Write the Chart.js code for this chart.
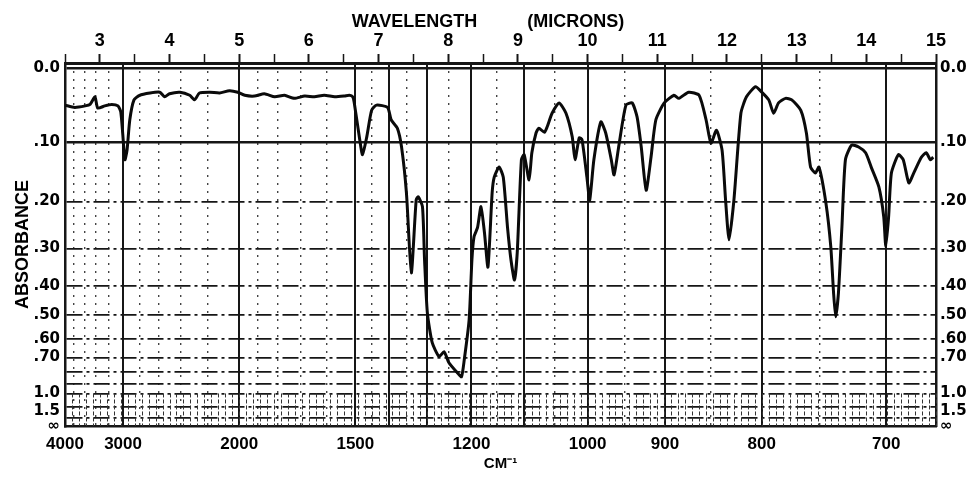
<!DOCTYPE html>
<html>
<head>
<meta charset="utf-8">
<script src="https://cdn.jsdelivr.net/npm/chart.js@4.4.0/dist/chart.umd.min.js"></script>
<style>
  html, body { margin: 0; padding: 0; background: #fff; }
  canvas { display: block; }
</style>
</head>
<body>
<canvas id="spec" width="978" height="480"></canvas>
<script>
// trace: wavelength in microns, absorbance
const wavelength = [
  2.50, 2.64, 2.79, 2.86, 2.93, 2.97, 3.07, 3.17, 3.26, 3.30,
  3.33, 3.36, 3.39, 3.43, 3.49, 3.57, 3.72, 3.86, 3.93, 4.00,
  4.15, 4.29, 4.36, 4.43, 4.58, 4.72, 4.86, 4.98, 5.08, 5.22,
  5.36, 5.51, 5.65, 5.79, 5.94, 6.08, 6.22, 6.37, 6.51, 6.58,
  6.63, 6.65, 6.73, 6.77, 6.83, 6.90, 6.97, 7.13, 7.18, 7.27,
  7.33, 7.40, 7.47, 7.54, 7.57, 7.63, 7.66, 7.70, 7.77, 7.87,
  7.94, 8.01, 8.13, 8.19, 8.23, 8.30, 8.34, 8.37, 8.42, 8.47,
  8.52, 8.57, 8.63, 8.66, 8.73, 8.79, 8.85, 8.90, 8.95, 8.99,
  9.05, 9.09, 9.16, 9.20, 9.26, 9.30, 9.38, 9.42, 9.49, 9.59,
  9.69, 9.78, 9.82, 9.88, 9.92, 9.99, 10.03, 10.09, 10.19, 10.26,
  10.34, 10.38, 10.45, 10.55, 10.64, 10.71, 10.77, 10.84, 10.91, 10.98,
  11.10, 11.24, 11.31, 11.45, 11.60, 11.70, 11.77, 11.85, 11.93, 11.98,
  12.03, 12.10, 12.20, 12.28, 12.41, 12.50, 12.60, 12.67, 12.74, 12.84,
  12.93, 13.06, 13.14, 13.20, 13.27, 13.32, 13.42, 13.49, 13.53, 13.56,
  13.60, 13.65, 13.70, 13.79, 13.89, 13.99, 14.07, 14.18, 14.25, 14.28,
  14.32, 14.36, 14.46, 14.53, 14.61, 14.68, 14.79, 14.86, 14.92, 14.96
];
const absorbance = [
  .047, .050, .048, .046, .036, .051, .048, .046, .048, .056,
  .089, .127, .112, .067, .040, .034, .031, .030, .036, .032,
  .030, .034, .040, .031, .030, .031, .028, .030, .034, .035,
  .032, .036, .034, .038, .035, .036, .034, .036, .035, .034,
  .036, .043, .096, .119, .092, .054, .047, .050, .067, .079,
  .107, .184, .363, .197, .191, .210, .328, .490, .619, .695,
  .667, .733, .803, .835, .714, .517, .328, .273, .253, .210,
  .264, .347, .184, .156, .139, .156, .251, .328, .383, .311,
  .127, .119, .161, .116, .086, .079, .085, .077, .058, .044,
  .058, .092, .127, .093, .096, .156, .197, .127, .070, .086,
  .127, .152, .104, .047, .044, .063, .107, .179, .123, .067,
  .044, .034, .038, .030, .034, .067, .101, .082, .112, .197,
  .280, .197, .058, .036, .023, .030, .040, .058, .044, .038,
  .040, .054, .086, .139, .149, .139, .203, .296, .422, .506,
  .422, .251, .127, .104, .107, .116, .139, .173, .230, .296,
  .230, .149, .119, .127, .166, .149, .123, .116, .127, .123
];

// bottom scale, cm-1
const wavenumbers = [4000, 3000, 2000, 1500, 1400, 1300, 1200, 1100, 1000, 900, 800, 700];
const wnLabels    = ['4000', '3000', '2000', '1500', '', '', '1200', '', '1000', '900', '800', '700'];
const wnMinor = [3800, 3600, 3400, 3200, 2800, 2600, 2400, 2200, 1900, 1800, 1700, 1600,
                 1450, 1350, 1250, 1150, 1050, 950, 850, 750];

// top scale, microns
const micronMajor = [3, 4, 5, 6, 7, 8, 9, 10, 11, 12, 13, 14, 15];
const micronMinor = [2.5, 3.5, 4.5, 5.5, 6.5, 7.5, 8.5, 9.5, 10.5, 11.5, 12.5, 13.5, 14.5];

// absorbance rulings (chart paper is linear in transmittance)
const absTicks  = [0, .1, .2, .3, .4, .5, .6, .7, .8, .9, 1.0, 1.2, 1.5, 2.0];
const absLabels = ['0.0', '.10', '.20', '.30', '.40', '.50', '.60', '.70', '', '', '1.0', '', ['1.5', '∞'], ''];

const T = a => 100 * Math.pow(10, -a);
const spectrum = wavelength.map((w, i) => ({ x: w, y: T(absorbance[i]) }));

const NARROW = "'Liberation Sans Narrow', 'Liberation Sans', Arial, sans-serif";
const WIDE = "'DejaVu Sans', sans-serif";
const INK = '#161616';

// dense short rulings in the 1.0 - 2.0 band at the bottom of the paper
const bandRuling = {
  id: 'bandRuling',
  beforeDatasetsDraw(chart) {
    const { ctx, scales: { x, y } } = chart;
    const top = y.getPixelForValue(T(1.0));
    const bottom = y.getPixelForValue(T(2.0));
    ctx.save();
    ctx.strokeStyle = '#333';
    ctx.lineWidth = 1;
    ctx.setLineDash([4, 2]);
    for (let w = 2.6; w < 15; w += 0.1) {
      const px = Math.round(x.getPixelForValue(w)) + 0.5;
      ctx.beginPath();
      ctx.moveTo(px, top);
      ctx.lineTo(px, bottom);
      ctx.stroke();
    }
    ctx.restore();
  }
};

const yTickBuild = s => { s.ticks = absTicks.map(a => ({ value: T(a) })); };

new Chart(document.getElementById('spec'), {
  type: 'line',
  data: {
    datasets: [{
      data: spectrum,
      borderColor: '#0a0a0a',
      borderWidth: 3,
      pointRadius: 0,
      tension: 0.2,
      fill: false,
      xAxisID: 'x',
      yAxisID: 'y'
    }]
  },
  options: {
    responsive: false,
    animation: false,
    devicePixelRatio: 1,
    layout: { padding: 0 },
    plugins: { legend: { display: false }, tooltip: { enabled: false } },
    scales: {
      x: {
        type: 'linear', position: 'bottom', min: 2.5, max: 15,
        afterBuildTicks: s => { s.ticks = wavenumbers.map(w => ({ value: 1e4 / w })); },
        afterFit: s => { s.height = 54; },
        ticks: {
          callback: (v, i) => wnLabels[i],
          font: { family: NARROW, size: 17, weight: 'bold' },
          color: '#000', padding: 8, maxRotation: 0, autoSkip: false
        },
        grid: { color: INK, lineWidth: 2, drawTicks: false },
        border: { display: true, color: INK, width: 2.5 },
        title: {
          display: true, text: 'CM⁻¹', color: '#000',
          font: { family: NARROW, size: 15, weight: 'bold' },
          padding: { top: 0, bottom: 7 }
        }
      },
      xMinor: {
        type: 'linear', position: 'bottom', min: 2.5, max: 15,
        afterBuildTicks: s => { s.ticks = wnMinor.map(w => ({ value: 1e4 / w })); },
        afterFit: s => { s.height = 0; },
        ticks: { display: false },
        grid: { color: '#444', lineWidth: 1.4, drawTicks: false },
        border: { display: false, dash: [2, 6] }
      },
      xTop: {
        type: 'linear', position: 'top', min: 2.5, max: 15,
        afterBuildTicks: s => {
          s.ticks = micronMajor.concat(micronMinor).sort((a, b) => a - b).map(v => ({ value: v }));
        },
        afterFit: s => { s.height = 63; },
        ticks: {
          callback: v => micronMajor.includes(v) ? String(v) : '',
          font: { family: NARROW, size: 18, weight: 'bold' },
          color: '#000', padding: 2, maxRotation: 0, autoSkip: false
        },
        grid: {
          drawOnChartArea: false, drawTicks: true, tickLength: 9, color: INK,
          tickWidth: c => (c.tick && micronMajor.includes(c.tick.value)) ? 2 : 1.5
        },
        border: { display: true, color: INK, width: 3 },
        title: {
          display: true, text: 'WAVELENGTH          (MICRONS)     ', color: '#000',
          font: { family: NARROW, size: 18, weight: 'bold' },
          padding: { top: 11, bottom: 0 }
        }
      },
      y: {
        type: 'linear', position: 'left', min: 1, max: 101.4,
        afterBuildTicks: yTickBuild,
        afterFit: s => { s.width = 65; },
        ticks: {
          callback: (v, i) => absLabels[i],
          font: { family: WIDE, size: 15, weight: 'bold', lineHeight: 1.0 },
          color: '#000', padding: 5, autoSkip: false
        },
        grid: {
          color: INK, drawTicks: false,
          lineWidth: c => (c.tick && c.index <= 1) ? 2.4 : 1.8
        },
        border: {
          display: true, color: INK, width: 2.5,
          dash: c => (c.tick && c.index >= 2) ? [16, 4, 3, 4] : []
        },
        title: {
          display: true, text: 'ABSORBANCE', color: '#000',
          font: { family: NARROW, size: 18, weight: 'bold' },
          padding: { top: 12, bottom: 0 }
        }
      },
      yRight: {
        type: 'linear', position: 'right', min: 1, max: 101.4,
        afterBuildTicks: yTickBuild,
        afterFit: s => { s.width = 42; },
        ticks: {
          callback: (v, i) => absLabels[i],
          font: { family: WIDE, size: 15, weight: 'bold', lineHeight: 1.0 },
          color: '#000', padding: 4, autoSkip: false
        },
        grid: { drawOnChartArea: false, drawTicks: false },
        border: { display: true, color: INK, width: 2.5 }
      }
    }
  },
  plugins: [bandRuling]
});
</script>
</body>
</html>
